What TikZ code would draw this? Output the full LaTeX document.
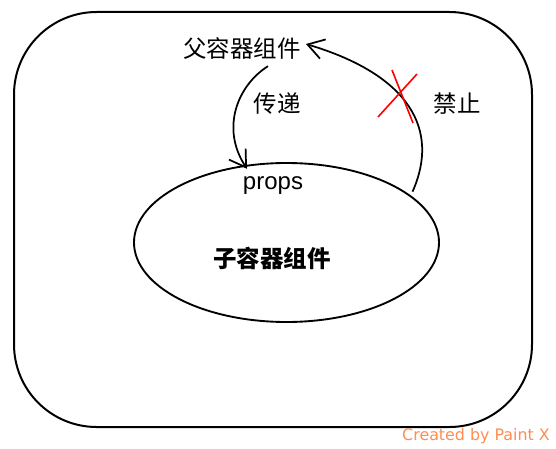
\documentclass[tikz,border=0pt]{standalone}
\usepackage{fontspec}
\setmainfont{Noto Sans CJK SC}
\newfontfamily\latinfont{Liberation Sans}
\newfontfamily\markfont{DejaVu Sans}
\usetikzlibrary{arrows.meta,shapes.geometric,calc}

\definecolor{markorange}{RGB}{255,140,80}

\begin{document}
\begin{tikzpicture}[
    x=0.75pt, y=-0.75pt,
    cjk/.style={inner sep=0pt, font=\fontsize{17.6pt}{20pt}\selectfont},
    frame/.style={draw, line width=1.5pt, rounded corners=62pt},
    container/.style={draw, ellipse, line width=1.4pt, inner sep=0pt, minimum width=228.75pt, minimum height=119.25pt},
    arrow/.style={-{Straight Barb[length=12pt, width=15pt, line width=1.3pt]}, line width=1.3pt},
    cross/.style={draw=red, line width=1.2pt},
]
    \useasboundingbox (0,0) rectangle (556,449);
    \draw[frame] (14,12) rectangle (532,427);

    \node[container] (child) at (286.5,242.5) {};
    \node[cjk] (parent) at (242,49) {父容器组件};
    \node[cjk, font=\fontsize{17.6pt}{20pt}\selectfont\bfseries] (childname) at (272,258) {子容器组件};
    \node[cjk] (pass) at (277,104) {传递};
    \node[cjk] (forbid) at (457,104) {禁止};
    \node[inner sep=0pt, font=\latinfont\fontsize{18pt}{20pt}\selectfont] (props) at (273,186) {props};
    \node[inner sep=0pt, text=markorange, font=\markfont\fontsize{11.9pt}{14pt}\selectfont] (credit) at (476,436) {Created by Paint X};

    % passing down
    \draw[arrow] ($(parent.south)+(26,6)$) .. controls (238,85) and (220,128) .. ($(props.north)+(-26,-8)$);
    % not allowed back up
    \draw[arrow] ($(child.20)+(0,-5)$) .. controls (440,130) and (410,75) .. ($(parent.east)+(5,-5)$);
    \draw[cross] (378,117) -- (417,74);
    \draw[cross] (392,70) -- (413,123);
\end{tikzpicture}
\end{document}
